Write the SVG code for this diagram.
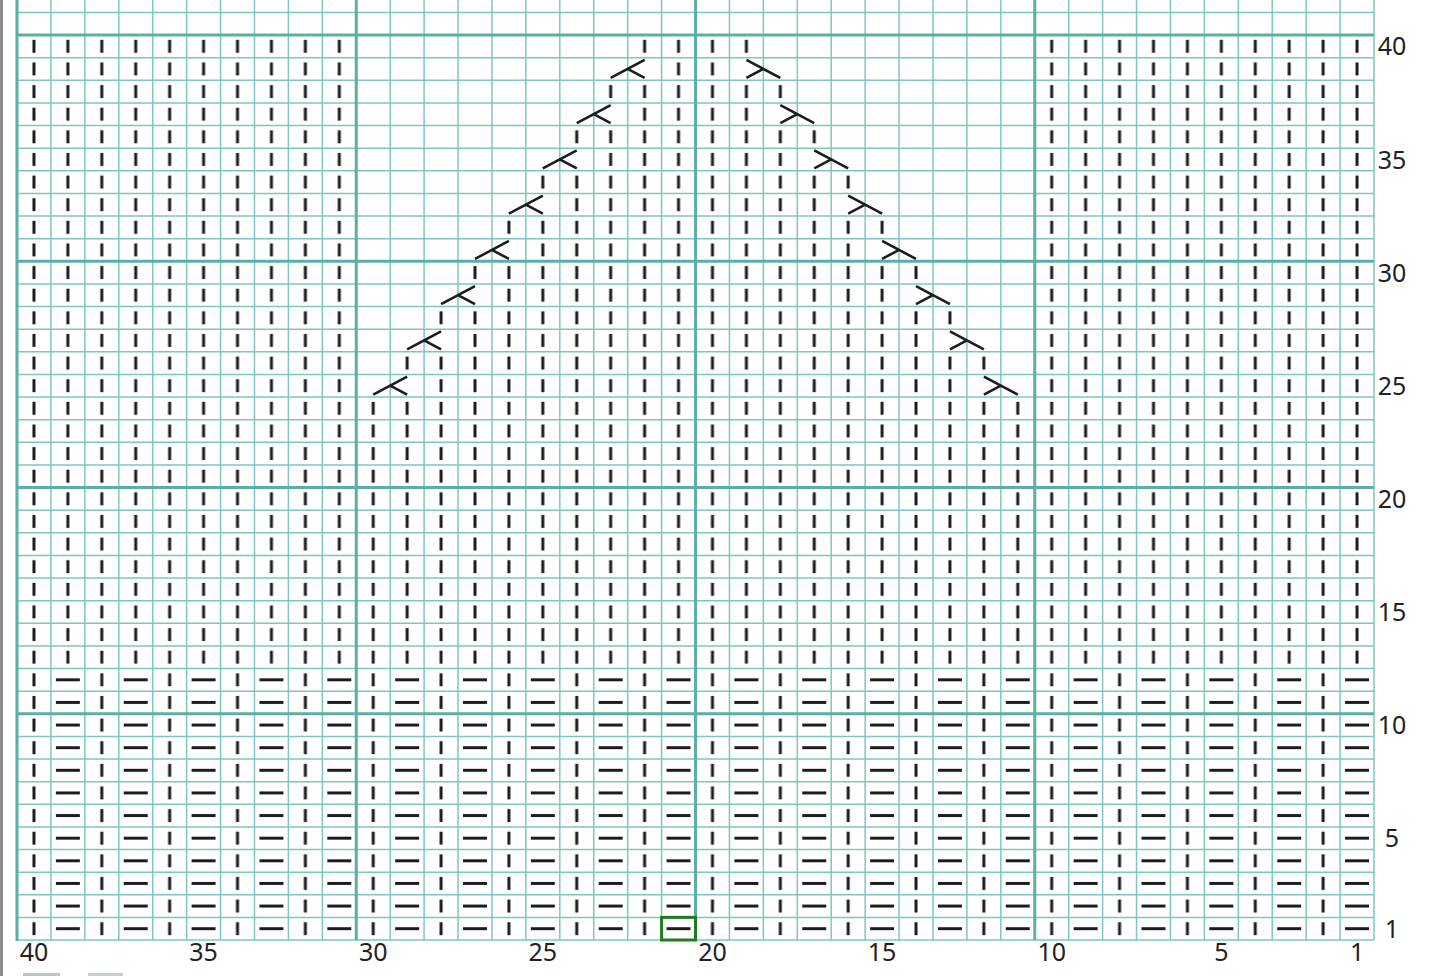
<svg xmlns="http://www.w3.org/2000/svg" xmlns:xlink="http://www.w3.org/1999/xlink" width="1440" height="976" viewBox="0 0 1440 976">
<style>
.thin{stroke:#80c6bf;stroke-width:1.5;fill:none}
.thick{stroke:#5cafa7;stroke-width:3;fill:none}
.lbl{font-family:"Noto Sans","Open Sans","Liberation Sans",sans-serif;font-size:25px;fill:#222;text-anchor:middle}
.dec{stroke:#1c1c1c;stroke-width:2.6;fill:none}
</style>
<defs>
<pattern id="knit" patternUnits="userSpaceOnUse" x="17" y="35" width="33.925" height="22.625"><rect x="15.46" y="4.81" width="3" height="13" fill="#1c1c1c"/></pattern>
<pattern id="rib" patternUnits="userSpaceOnUse" x="17" y="35" width="67.85" height="22.625"><rect x="15.46" y="4.81" width="3" height="13" fill="#1c1c1c"/><rect x="38.89" y="9.81" width="24" height="3" fill="#1c1c1c"/></pattern>
<path id="decl" class="dec" d="M-16.96 9L16.96 -9M0 0L16.96 9"/>
<path id="decr" class="dec" d="M-16.96 -9L16.96 9M0 0L-16.96 9"/>
</defs>
<rect x="0" y="0" width="1440" height="976" fill="#ffffff"/>
<rect x="0" y="0" width="3" height="976" fill="#8c8c8c"/>
<g id="grid">
<path class="thin" d="M50.93 0V940M84.85 0V940M118.78 0V940M152.7 0V940M186.63 0V940M220.55 0V940M254.48 0V940M288.4 0V940M322.33 0V940M390.18 0V940M424.1 0V940M458.03 0V940M491.95 0V940M525.88 0V940M559.8 0V940M593.73 0V940M627.65 0V940M661.58 0V940M729.43 0V940M763.35 0V940M797.28 0V940M831.2 0V940M865.13 0V940M899.05 0V940M932.98 0V940M966.9 0V940M1000.83 0V940M1068.68 0V940M1102.6 0V940M1136.53 0V940M1170.45 0V940M1204.38 0V940M1238.3 0V940M1272.23 0V940M1306.15 0V940M1340.08 0V940M1374 0V940"/>
<path class="thin" d="M17 12.38H1374M17 57.63H1374M17 80.25H1374M17 102.88H1374M17 125.5H1374M17 148.13H1374M17 170.75H1374M17 193.38H1374M17 216H1374M17 238.63H1374M17 283.88H1374M17 306.5H1374M17 329.13H1374M17 351.75H1374M17 374.38H1374M17 397H1374M17 419.63H1374M17 442.25H1374M17 464.88H1374M17 510.13H1374M17 532.75H1374M17 555.38H1374M17 578H1374M17 600.63H1374M17 623.25H1374M17 645.88H1374M17 668.5H1374M17 691.13H1374M17 736.38H1374M17 759H1374M17 781.63H1374M17 804.25H1374M17 826.88H1374M17 849.5H1374M17 872.13H1374M17 894.75H1374M17 917.38H1374M17 940H1374"/>
<path class="thick" d="M17 0V941M356.25 0V940M695.5 0V940M1034.75 0V940M17 35H1374M17 261.25H1374M17 487.5H1374M17 713.75H1374"/>
</g>
<g id="stitches">
<rect x="17" y="668.5" width="1357" height="271.5" fill="url(#rib)"/>
<rect x="17" y="35" width="339.25" height="633.5" fill="url(#knit)"/>
<rect x="1034.75" y="35" width="339.25" height="633.5" fill="url(#knit)"/>
<rect x="356.25" y="397" width="678.5" height="271.5" fill="url(#knit)"/>
<rect x="424.1" y="374.38" width="542.8" height="22.625" fill="url(#knit)"/>
<rect x="390.18" y="351.75" width="610.65" height="22.625" fill="url(#knit)"/>
<rect x="458.03" y="329.13" width="474.95" height="22.625" fill="url(#knit)"/>
<rect x="424.1" y="306.5" width="542.8" height="22.625" fill="url(#knit)"/>
<rect x="491.95" y="283.88" width="407.1" height="22.625" fill="url(#knit)"/>
<rect x="458.03" y="261.25" width="474.95" height="22.625" fill="url(#knit)"/>
<rect x="525.88" y="238.63" width="339.25" height="22.625" fill="url(#knit)"/>
<rect x="491.95" y="216" width="407.1" height="22.625" fill="url(#knit)"/>
<rect x="559.8" y="193.38" width="271.4" height="22.625" fill="url(#knit)"/>
<rect x="525.88" y="170.75" width="339.25" height="22.625" fill="url(#knit)"/>
<rect x="593.73" y="148.13" width="203.55" height="22.625" fill="url(#knit)"/>
<rect x="559.8" y="125.5" width="271.4" height="22.625" fill="url(#knit)"/>
<rect x="627.65" y="102.88" width="135.7" height="22.625" fill="url(#knit)"/>
<rect x="593.73" y="80.25" width="203.55" height="22.625" fill="url(#knit)"/>
<rect x="661.58" y="57.63" width="67.85" height="22.625" fill="url(#knit)"/>
<rect x="627.65" y="35" width="135.7" height="22.625" fill="url(#knit)"/>
</g>
<g id="decreases">
<use xlink:href="#decl" x="390.18" y="385.69"/>
<use xlink:href="#decr" x="1000.83" y="385.69"/>
<use xlink:href="#decl" x="424.1" y="340.44"/>
<use xlink:href="#decr" x="966.9" y="340.44"/>
<use xlink:href="#decl" x="458.03" y="295.19"/>
<use xlink:href="#decr" x="932.98" y="295.19"/>
<use xlink:href="#decl" x="491.95" y="249.94"/>
<use xlink:href="#decr" x="899.05" y="249.94"/>
<use xlink:href="#decl" x="525.88" y="204.69"/>
<use xlink:href="#decr" x="865.13" y="204.69"/>
<use xlink:href="#decl" x="559.8" y="159.44"/>
<use xlink:href="#decr" x="831.2" y="159.44"/>
<use xlink:href="#decl" x="593.73" y="114.19"/>
<use xlink:href="#decr" x="797.28" y="114.19"/>
<use xlink:href="#decl" x="627.65" y="68.94"/>
<use xlink:href="#decr" x="763.35" y="68.94"/>
</g>
<g id="marker">
<rect x="661.58" y="917.38" width="33.925" height="22.625" fill="none" stroke="#1f7a22" stroke-width="3"/>
</g>
<g id="row-labels">
<text class="lbl" x="1392" y="55">40</text>
<text class="lbl" x="1392" y="168.5">35</text>
<text class="lbl" x="1392" y="281.5">30</text>
<text class="lbl" x="1392" y="394.7">25</text>
<text class="lbl" x="1392" y="507.8">20</text>
<text class="lbl" x="1392" y="620.9">15</text>
<text class="lbl" x="1392" y="734">10</text>
<text class="lbl" x="1392" y="847.2">5</text>
<text class="lbl" x="1392" y="937.7">1</text>
</g>
<g id="col-labels">
<text class="lbl" x="33.96" y="961">40</text>
<text class="lbl" x="203.59" y="961">35</text>
<text class="lbl" x="373.21" y="961">30</text>
<text class="lbl" x="542.84" y="961">25</text>
<text class="lbl" x="712.46" y="961">20</text>
<text class="lbl" x="882.09" y="961">15</text>
<text class="lbl" x="1051.71" y="961">10</text>
<text class="lbl" x="1221.34" y="961">5</text>
<text class="lbl" x="1357.04" y="961">1</text>
</g>
<rect x="23" y="973" width="37" height="3" fill="#b9c7cc"/>
<rect x="88" y="973" width="35" height="3" fill="#c4cfd3"/>
</svg>
